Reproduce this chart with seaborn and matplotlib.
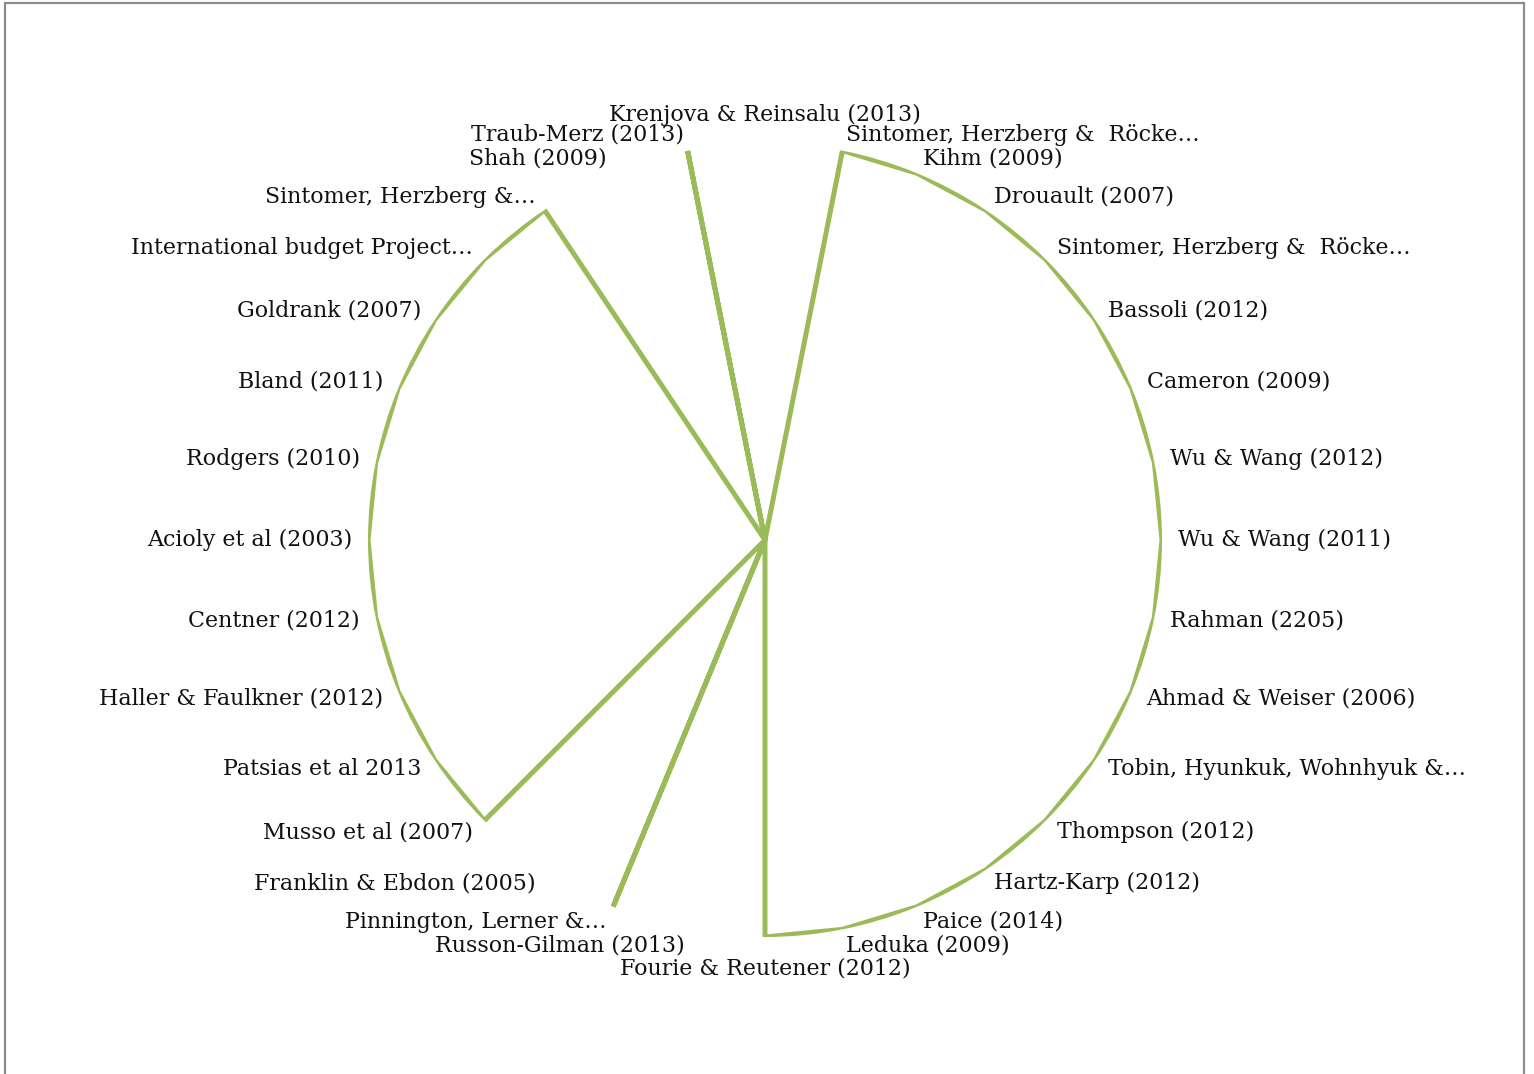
import numpy as np
import pandas as pd
import matplotlib
matplotlib.use("Agg")
import matplotlib.pyplot as plt
from matplotlib.lines import Line2D
import seaborn as sns

categories = [
    "Krenjova & Reinsalu (2013)",
    "Sintomer, Herzberg &  Röcke…",
    "Kihm (2009)",
    "Drouault (2007)",
    "Sintomer, Herzberg &  Röcke…",
    "Bassoli (2012)",
    "Cameron (2009)",
    "Wu & Wang (2012)",
    "Wu & Wang (2011)",
    "Rahman (2205)",
    "Ahmad & Weiser (2006)",
    "Tobin, Hyunkuk, Wohnhyuk &…",
    "Thompson (2012)",
    "Hartz-Karp (2012)",
    "Paice (2014)",
    "Leduka (2009)",
    "Fourie & Reutener (2012)",
    "Russon-Gilman (2013)",
    "Pinnington, Lerner &…",
    "Franklin & Ebdon (2005)",
    "Musso et al (2007)",
    "Patsias et al 2013",
    "Haller & Faulkner (2012)",
    "Centner (2012)",
    "Acioly et al (2003)",
    "Rodgers (2010)",
    "Bland (2011)",
    "Goldrank (2007)",
    "International budget Project…",
    "Sintomer, Herzberg &…",
    "Shah (2009)",
    "Traub-Merz (2013)",
]
values = [0, 1, 1, 1, 1, 1, 1, 1, 1, 1, 1, 1, 1, 1, 1, 1,
          1, 0, 1, 0, 1, 1, 1, 1, 1, 1, 1, 1, 1, 1, 0, 1]

sns.set_theme(style="white")
plt.rcParams['font.family'] = ['DejaVu Serif', 'Liberation Serif']

W, H = 1534, 1074
fig = plt.figure(figsize=(W / 100, H / 100), dpi=100)
cx, cy, R = 765, 540, 397
ax = fig.add_axes([(cx - R) / W, (H - cy - R) / H, 2 * R / W, 2 * R / H], projection='polar')
ax.set_theta_zero_location('N')
ax.set_theta_direction(-1)

n = len(categories)
theta = np.arange(n) * 2 * np.pi / n
df = pd.DataFrame({"theta": np.append(theta, 2 * np.pi), "value": values + [values[0]]})
sns.lineplot(data=df, x="theta", y="value", sort=False, estimator=None,
             color="#9BBB59", linewidth=3.6, ax=ax, legend=False)
for ln in ax.get_lines():
    ln.set_solid_joinstyle('miter')
ax.set_ylim(0, 1)
ax.grid(False)
ax.set_xticks([])
ax.set_yticks([])
ax.set_xlabel("")
ax.set_ylabel("")
ax.spines['polar'].set_visible(False)
ax.patch.set_alpha(0)

off = 16
for i, lab in enumerate(categories):
    a = theta[i]
    s, c = np.sin(a), np.cos(a)
    dx, dy = off * s, off * c
    if i == 0:
        ha, va = 'center', 'bottom'
        dy = 17
    elif i == n // 2:
        ha, va = 'center', 'top'
        dy = -21
    elif s > 0:
        ha, va = 'left', 'center'
    else:
        ha, va = 'right', 'center'
    ax.annotate(lab, xy=(a, 1.0), xytext=(dx, dy), textcoords='offset pixels',
                ha=ha, va=va, fontsize=15.9, color='#111111', annotation_clip=False)

gray = '#8C8C8C'
x0, x1, y0 = 5 / W, 1524 / W, 1 - 3 / H
fig.add_artist(Line2D([x0, x0], [0, y0], color=gray, lw=1.6, transform=fig.transFigure))
fig.add_artist(Line2D([x0, x1], [y0, y0], color=gray, lw=1.6, transform=fig.transFigure))
fig.add_artist(Line2D([x1, x1], [y0, 0], color=gray, lw=1.6, transform=fig.transFigure))

fig.savefig("out.png", dpi=100, facecolor='white')
